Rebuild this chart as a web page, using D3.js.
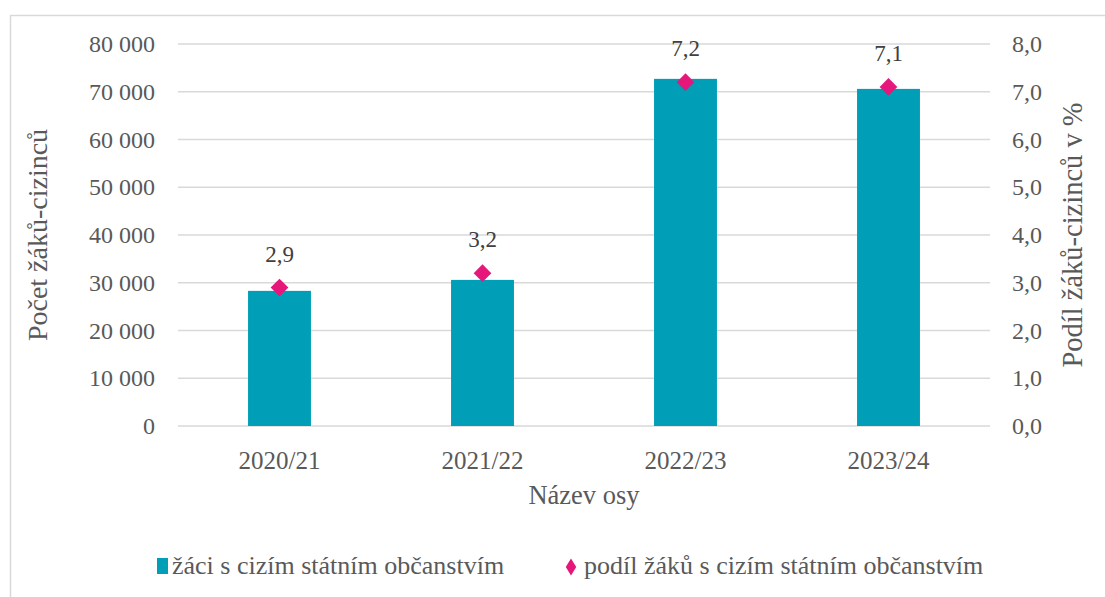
<!DOCTYPE html>
<html>
<head>
<meta charset="utf-8">
<script src="https://cdn.jsdelivr.net/npm/d3@7"></script>
<style>
  body { margin: 0; background: #fff; }
</style>
</head>
<body>
<div class="chart"></div>
<script>
// data
const years = ['2020/21', '2021/22', '2022/23', '2023/24']
const pupils = [28300, 30600, 72700, 70600]
const share = [2.9, 3.2, 7.2, 7.1]
const leftTicks = [0, 10000, 20000, 30000, 40000, 50000, 60000, 70000, 80000]
const rightTicks = [0, 1, 2, 3, 4, 5, 6, 7, 8]

const FONT = '"Liberation Serif", serif'
const GREY = '#595959'

const W = 1105, H = 597
const margin = {top: 44, right: 115, bottom: 171, left: 178}
const width = W - margin.left - margin.right
const height = H - margin.top - margin.bottom

const svg = d3.select('.chart')
  .append('svg')
    .attr('width', W)
    .attr('height', H)
    .style('font-family', FONT)

// outer frame (only left and top edges are visible)
svg.append('rect')
  .attr('x', 10.5).attr('y', 15.5)
  .attr('width', 1200).attr('height', 700)
  .attr('fill', 'none')
  .attr('stroke', '#d9d9d9')
  .attr('stroke-width', 1.5)

const g = svg.append('g')
  .attr('transform', `translate(${margin.left}, ${margin.top})`)

const x = d3.scaleBand().domain(years).range([0, width]).padding(0)
const y = d3.scaleLinear().domain([0, 80000]).range([height, 0])
const y2 = d3.scaleLinear().domain([0, 8]).range([height, 0])

const fmtThousands = d => d3.format(',')(d).replace(/,/g, ' ')
const fmtComma = d => d3.format('.1f')(d).replace('.', ',')

// style axis text the same way everywhere
function tidy(a, size) {
  a.attr('font-family', null).attr('font-size', null)
  a.select('.domain').remove()
  a.selectAll('text')
    .style('font-family', FONT)
    .style('font-size', size + 'px')
    .style('fill', GREY)
}

// gridlines
g.append('g')
  .selectAll('line')
  .data(leftTicks)
  .enter()
  .append('line')
    .attr('x1', 0).attr('x2', width)
    .attr('y1', d => y(d)).attr('y2', d => y(d))
    .attr('stroke', '#d9d9d9')
    .attr('stroke-width', 1.5)

// left axis
g.append('g')
  .call(d3.axisLeft(y).tickValues(leftTicks).tickSize(0).tickPadding(23).tickFormat(fmtThousands))
  .call(tidy, 24)

// right axis
g.append('g')
  .attr('transform', `translate(${width}, 0)`)
  .call(d3.axisRight(y2).tickValues(rightTicks).tickSize(0).tickPadding(22).tickFormat(fmtComma))
  .call(tidy, 24)

// x axis
g.append('g')
  .attr('transform', `translate(0, ${height})`)
  .call(d3.axisBottom(x).tickSize(0).tickPadding(25))
  .call(tidy, 25)

// bars
const barW = x.bandwidth() * 0.31
g.selectAll('.bar')
  .data(years)
  .enter()
  .append('rect')
    .attr('class', 'bar')
    .attr('x', d => x(d) + x.bandwidth() / 2 - barW / 2)
    .attr('y', (d, i) => y(pupils[i]))
    .attr('width', barW)
    .attr('height', (d, i) => height - y(pupils[i]))
    .attr('fill', '#009fb7')

// diamonds + labels
const pts = g.selectAll('.pt')
  .data(years)
  .enter()
  .append('g')
    .attr('class', 'pt')
    .attr('transform', (d, i) => `translate(${x(d) + x.bandwidth() / 2}, ${y2(share[i])})`)

pts.append('path')
  .attr('d', d3.symbol().type(d3.symbolDiamond2).size(200))
  .attr('fill', '#e6177b')

pts.append('text')
  .attr('y', -26)
  .style('text-anchor', 'middle')
  .style('font-size', '23px')
  .style('fill', '#404040')
  .text((d, i) => fmtComma(share[i]))

// axis titles
svg.append('text')
  .attr('transform', `translate(47, ${margin.top + height / 2}) rotate(-90)`)
  .style('text-anchor', 'middle')
  .style('font-size', '28px')
  .style('fill', GREY)
  .text('Počet žáků-cizinců')

svg.append('text')
  .attr('transform', `translate(1082, ${margin.top + height / 2}) rotate(-90)`)
  .style('text-anchor', 'middle')
  .style('font-size', '28.5px')
  .style('fill', GREY)
  .text('Podíl žáků-cizinců v %')

svg.append('text')
  .attr('x', margin.left + width / 2)
  .attr('y', 504)
  .style('text-anchor', 'middle')
  .style('font-size', '26.5px')
  .style('fill', GREY)
  .text('Název osy')

// legend
const legend = svg.append('g').attr('transform', 'translate(0, 566)')
legend.append('rect')
  .attr('x', 157).attr('y', -8)
  .attr('width', 11).attr('height', 16)
  .attr('fill', '#009fb7')
legend.append('text')
  .attr('x', 172).attr('y', 8)
  .style('font-size', '26px')
  .style('fill', GREY)
  .text('žáci s cizím státním občanstvím')
legend.append('path')
  .attr('d', d3.symbol().type(d3.symbolDiamond2).size(110))
  .attr('transform', 'translate(571, 1) scale(0.8, 1.3)')
  .attr('fill', '#e6177b')
legend.append('text')
  .attr('x', 584).attr('y', 8)
  .style('font-size', '26px')
  .style('fill', GREY)
  .text('podíl žáků s cizím státním občanstvím')
</script>
</body>
</html>
